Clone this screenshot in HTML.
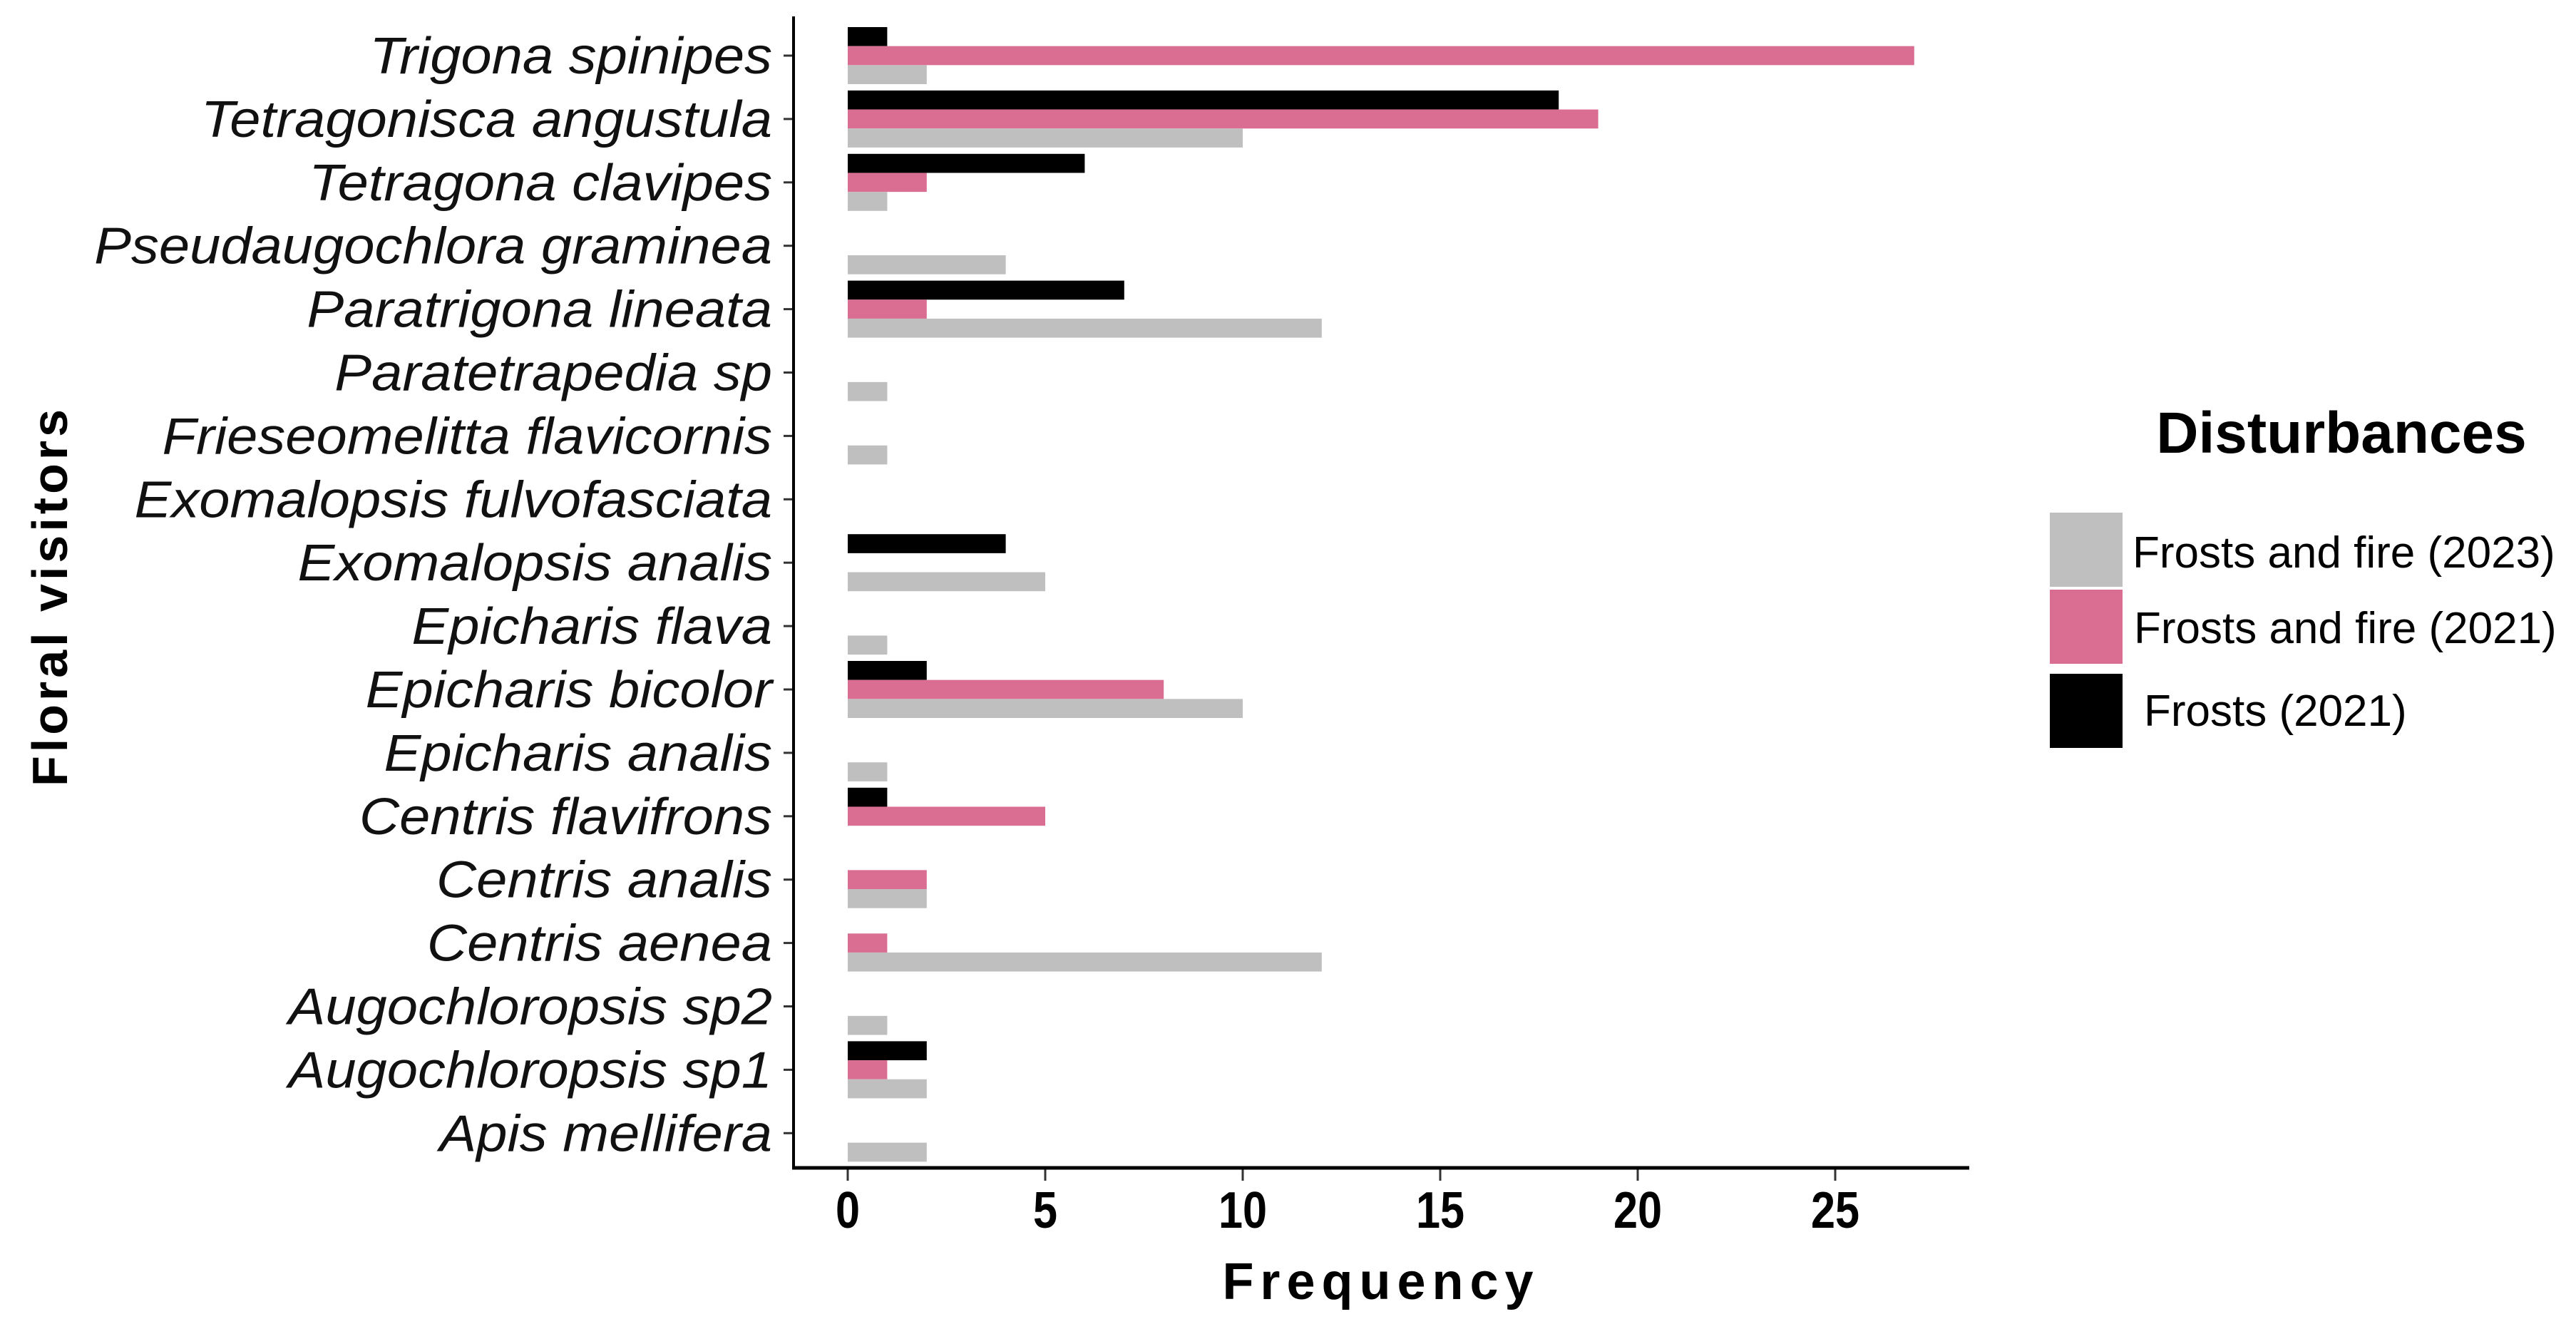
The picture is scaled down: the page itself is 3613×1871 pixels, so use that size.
<!DOCTYPE html>
<html><head><meta charset="utf-8"><style>
html,body{margin:0;padding:0;background:#fff;}
svg{display:block;font-family:"Liberation Sans",Arial,sans-serif;}
</style></head><body>
<svg id="chart" width="3613" height="1871" viewBox="0 0 3613 1871" xmlns="http://www.w3.org/2000/svg">
<rect width="3613" height="1871" fill="#fff"/>
<g id="bars"></g>
<g id="yticks"></g>
<g id="xticks"></g>
<line x1="1113" y1="23" x2="1113" y2="1640" stroke="#000" stroke-width="4"/>
<line x1="1111" y1="1638" x2="2762" y2="1638" stroke="#000" stroke-width="5"/>
<text x="1937" y="1822" text-anchor="middle" font-weight="bold" font-size="72" letter-spacing="9">Frequency</text>
<text transform="translate(94,836) rotate(-90)" text-anchor="middle" font-weight="bold" font-size="70" letter-spacing="5">Floral visitors</text>
<g>
<text x="3284" y="635" text-anchor="middle" font-weight="bold" font-size="82">Disturbances</text>
<rect x="2875" y="719" width="102" height="104" fill="#bfbfbf"/>
<rect x="2875" y="827" width="102" height="104" fill="#d96d92"/>
<rect x="2875" y="945" width="102" height="104" fill="#000"/>
<text x="2991" y="796" font-size="62">Frosts and fire (2023)</text>
<text x="2993" y="902" font-size="62">Frosts and fire (2021)</text>
<text x="3007" y="1018" font-size="62">Frosts (2021)</text>
</g>
</svg>
<script>
const categories = ["Trigona spinipes","Tetragonisca angustula","Tetragona clavipes","Pseudaugochlora graminea","Paratrigona lineata","Paratetrapedia sp","Frieseomelitta flavicornis","Exomalopsis fulvofasciata","Exomalopsis analis","Epicharis flava","Epicharis bicolor","Epicharis analis","Centris flavifrons","Centris analis","Centris aenea","Augochloropsis sp2","Augochloropsis sp1","Apis mellifera"];
const frosts2021 = [1,18,6,0,7,0,0,0,4,0,2,0,1,0,0,0,2,0];
const fire2021 = [27,19,2,0,2,0,0,0,0,0,8,0,5,2,1,0,1,0];
const fire2023 = [2,10,1,4,12,1,1,0,5,1,10,1,0,2,12,1,2,2];
const xTicks = [0,5,10,15,20,25];

const NS = "http://www.w3.org/2000/svg";
const x0 = 1189, xUnit = 55.4;
function xs(v){ return x0 + v*xUnit; }
const yFirst = 78, yStep = 88.9;
function ys(i){ return yFirst + i*yStep; }
const bh = yStep*0.9/3;

const bars = document.getElementById('bars');
const series = [
  {vals: frosts2021, color:"#000", off:-1.5},
  {vals: fire2021, color:"#d96d92", off:-0.5},
  {vals: fire2023, color:"#bfbfbf", off:0.5}
];
series.forEach(s=>{
  s.vals.forEach((v,i)=>{
    if(v<=0) return;
    const r = document.createElementNS(NS,'rect');
    r.setAttribute('x', xs(0));
    r.setAttribute('y', ys(i)+s.off*bh);
    r.setAttribute('width', xs(v)-xs(0));
    r.setAttribute('height', bh);
    r.setAttribute('fill', s.color);
    
    
    bars.appendChild(r);
  });
});

const yt = document.getElementById('yticks');
categories.forEach((c,i)=>{
  const g = document.createElementNS(NS,'g');
  g.setAttribute('transform','translate(1083,'+(ys(i)+25)+') scale(1.08,1)');
  const t = document.createElementNS(NS,'text');
  t.setAttribute('text-anchor','end');
  t.setAttribute('font-size','72');
  t.setAttribute('font-style','italic');
  t.setAttribute('fill','#111');
  t.textContent = c;
  
  
  g.appendChild(t);
  yt.appendChild(g);
  const l = document.createElementNS(NS,'line');
  l.setAttribute('x1',1099); l.setAttribute('x2',1113);
  l.setAttribute('y1',ys(i)); l.setAttribute('y2',ys(i));
  l.setAttribute('stroke','#333'); l.setAttribute('stroke-width','3');
  
  
  yt.appendChild(l);
});

const xt = document.getElementById('xticks');
xTicks.forEach(v=>{
  const l = document.createElementNS(NS,'line');
  l.setAttribute('x1',xs(v)); l.setAttribute('x2',xs(v));
  l.setAttribute('y1',1638); l.setAttribute('y2',1656);
  l.setAttribute('stroke','#333'); l.setAttribute('stroke-width','3');
  
  
  xt.appendChild(l);
  const g = document.createElementNS(NS,'g');
  g.setAttribute('transform','translate('+xs(v)+',1722) scale(0.85,1)');
  const t = document.createElementNS(NS,'text');
  t.setAttribute('text-anchor','middle');
  t.setAttribute('font-size','72');
  t.setAttribute('font-weight','bold');
  t.textContent = v;
  
  
  g.appendChild(t);
  xt.appendChild(g);
});
</script>
</body></html>
